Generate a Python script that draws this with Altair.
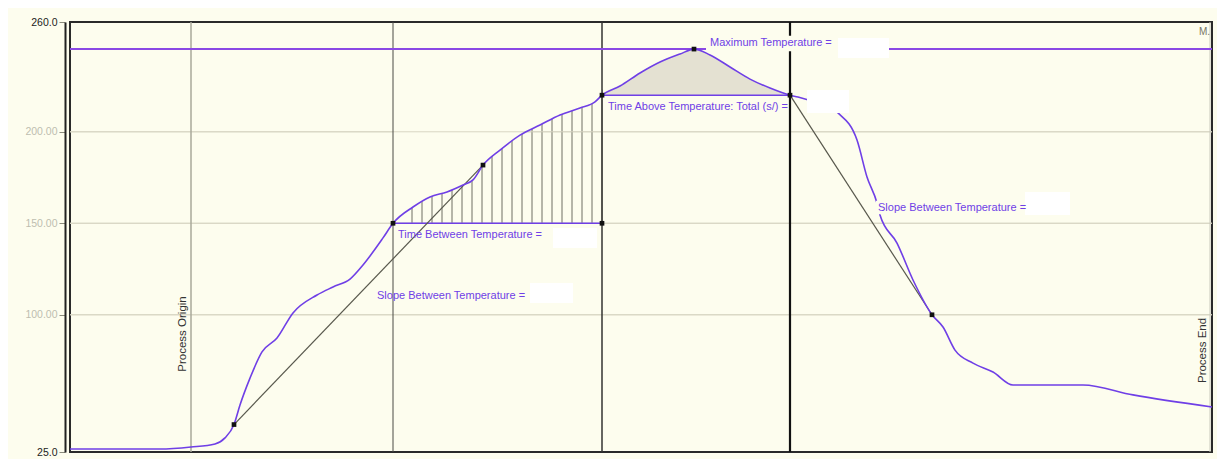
import altair as alt
import pandas as pd

# ---------------- data ----------------
time_s = [0, 45, 60.5, 72.5, 77.5, 82, 85, 90, 96, 103.5, 111.5, 123.5, 131.5, 140, 146.5,
          156.5, 161.5, 171.5, 180, 188.5, 196.5, 201.5, 206.5, 215, 225, 235, 245, 255,
          262.5, 266, 275, 285, 295, 305, 312, 320, 330, 340, 350, 360, 364, 374, 384,
          393.5, 398.5, 403.5, 405, 413.5, 421.5, 431, 436.5, 442.5, 451.5, 461.5, 471.5,
          506.5, 531.5, 571]
temp_c = [26.6, 26.6, 27.7, 29.4, 32.7, 40.0, 50.7, 65.4, 79.7, 87.3, 101.0, 110.8, 115.2,
          119.5, 127.2, 142.0, 150.0, 158.9, 164.4, 167.1, 170.9, 173.7, 181.8, 190.0, 198.2,
          203.7, 209.2, 213.0, 216.3, 220.0, 225.0, 232.1, 238.1, 242.5, 245.2, 242.0, 235.4,
          228.8, 223.9, 220.0, 219.0, 215.5, 210.3, 195.5, 175.3, 161.1, 154.5, 139.2, 119.0,
          100.0, 93.3, 80.7, 73.6, 68.7, 61.6, 61.6, 56.2, 49.6]

axis_ticks = [25, 100, 150, 200, 260]
grid_T = [100, 150, 200]

origin_t = 60.5
marker_lines_t = [161.5]
above_start_t = 266
above_end_t = 360
end_t = 571

max_temp = 245.2
low_thresh = 150
high_thresh = 220

marker_t = [82, 161.5, 206.5, 266, 312, 360, 431, 266]
marker_T = [40, 150, 181.8, 220, 245.2, 220, 100, 150]

slope_seg = ["a", "a", "b", "b"]
slope_t = [82, 206.5, 360, 431]
slope_T = [40, 181.8, 220, 100]

labels = ["Maximum Temperature =", "Time Above Temperature: Total (s/) =",
          "Time Between Temperature =", "Slope Between Temperature =",
          "Slope Between Temperature ="]
label_t = [320, 269, 164, 153.5, 404]
label_T = [248.3, 213.8, 143.4, 110.0, 158.6]

# blank value boxes (white) next to each label
box_t0 = [384, 368.5, 241.5, 230, 477.5]
box_t1 = [409.5, 389.5, 263.5, 251.5, 500]
box_T0 = [240.3, 210.3, 136.5, 106.4, 154.5]
box_T1 = [251.3, 222.8, 147.4, 117.4, 167.1]

# label backgrounds that hide lines beneath
lbg_t0 = [318, 403]
lbg_t1 = [384, 476]
lbg_T0 = [244.0, 155.0]
lbg_T1 = [252.5, 162.3]

side_texts = ["Process Origin", "Process End"]
side_t = [56.5, 566.5]
side_T = [89.5, 80.5]

corner_text = ["M."]
corner_t = [564.5]
corner_T = [254.3]

# ---------------- styling ----------------
bg = "#fdfdee"
purple = "#6f3fe6"
font = "Liberation Sans"

xs = alt.Scale(domain=[0, 571], nice=False, zero=False)
ys = alt.Scale(domain=[25, 260], nice=False, zero=False)

yaxis = alt.Axis(
    values=axis_ticks,
    labelExpr="datum.value == 25 ? '25.0' : datum.value == 260 ? '260.0' : format(datum.value, '.2f')",
    grid=False, domain=True, offset=5, domainColor="#222222", domainWidth=2,
    ticks=True, tickColor="#8a8a7c", tickSize=6, tickWidth=1, labelPadding=2,
    labelFont=font, labelFontSize=10.5, labelFlush=False,
    labelColor={"condition": {"test": "datum.value == 25 || datum.value == 260", "value": "#222222"},
                "value": "#bdbdb0"},
    title=None,
)


def X(f):
    return alt.X(f, type="quantitative", scale=xs, axis=None)


def Y(f):
    return alt.Y(f, type="quantitative", scale=ys, axis=yaxis)


curve_df = pd.DataFrame({"t": time_s, "T": temp_c})

grid = alt.Chart(pd.DataFrame({"T": grid_T})).mark_rule(color="#d8d6c4", strokeWidth=1).encode(
    y=Y("T"))

hatch = alt.Chart(alt.sequence(171, 267, 5, as_="t")).transform_calculate(
    lo=str(low_thresh), hi="223").mark_rule(color="#6e6e62", strokeWidth=1).encode(
    x=X("t"), y=Y("lo"), y2=alt.Y2("hi"))

mask = alt.Chart(curve_df).transform_filter(
    f"datum.t >= {marker_lines_t[0]} && datum.t <= {above_start_t}").transform_calculate(
    top="224").mark_area(color=bg, opacity=1, interpolate="monotone").encode(
    x=X("t"), y=Y("T"), y2=alt.Y2("top"))

grid_top = alt.Chart(pd.DataFrame({"T": grid_T})).mark_rule(color="#d8d6c4", strokeWidth=1).encode(
    y=Y("T"))

dotted = alt.Chart(curve_df).transform_filter(
    f"datum.t >= {above_start_t} && datum.t <= {above_end_t}").transform_calculate(
    base=str(high_thresh)).mark_area(color="#e4e1d2", opacity=1, interpolate="monotone").encode(
    x=X("t"), y=Y("T"), y2=alt.Y2("base"))

v_origin = alt.Chart(pd.DataFrame({"t": [origin_t]})).mark_rule(
    color="#a9a89a", strokeWidth=1.5).encode(x=X("t"))
v_mid = alt.Chart(pd.DataFrame({"t": marker_lines_t})).mark_rule(
    color="#4a4a44", strokeWidth=1).encode(x=X("t"))
v_a = alt.Chart(pd.DataFrame({"t": [above_start_t]})).mark_rule(
    color="#333330", strokeWidth=1.5).encode(x=X("t"))
v_b = alt.Chart(pd.DataFrame({"t": [above_end_t]})).mark_rule(
    color="#111111", strokeWidth=2.2).encode(x=X("t"))
v_end = alt.Chart(pd.DataFrame({"t": [end_t - 1]})).mark_rule(
    color="#c8c8bc", strokeWidth=1).encode(x=X("t"))

max_line = alt.Chart(pd.DataFrame({"T": [max_temp]})).mark_rule(
    color="#8a48e4", strokeWidth=2).encode(y=Y("T"))

base_df = pd.DataFrame({"t0": [marker_lines_t[0], above_start_t],
                        "t1": [above_start_t, above_end_t],
                        "T": [low_thresh, high_thresh]})
baselines = alt.Chart(base_df).mark_rule(color=purple, strokeWidth=1.6).encode(
    x=X("t0"), x2=alt.X2("t1"), y=Y("T"))

slope_df = pd.DataFrame({"seg": slope_seg, "t": slope_t, "T": slope_T})
slopes = alt.Chart(slope_df).mark_line(color="#58584c", strokeWidth=1.2).encode(
    x=X("t"), y=Y("T"), detail="seg:N")

curve = alt.Chart(curve_df).mark_line(color=purple, strokeWidth=1.6, interpolate="monotone").encode(
    x=X("t"), y=Y("T"), order="t:Q")

lbg = alt.Chart(pd.DataFrame({"a": lbg_t0, "b": lbg_t1, "c": lbg_T0, "d": lbg_T1})).mark_rect(
    color=bg).encode(x=X("a"), x2=alt.X2("b"), y=Y("c"), y2=alt.Y2("d"))

boxes = alt.Chart(pd.DataFrame({"a": box_t0, "b": box_t1, "c": box_T0, "d": box_T1})).mark_rect(
    color="#ffffff").encode(x=X("a"), x2=alt.X2("b"), y=Y("c"), y2=alt.Y2("d"))

markers = alt.Chart(pd.DataFrame({"t": marker_t, "T": marker_T})).mark_square(
    size=22, color="#111111", opacity=1).encode(x=X("t"), y=Y("T"))

texts = alt.Chart(pd.DataFrame({"s": labels, "t": label_t, "T": label_T})).mark_text(
    align="left", baseline="middle", color=purple, font=font, fontSize=11).encode(
    x=X("t"), y=Y("T"), text="s:N")

side = alt.Chart(pd.DataFrame({"s": side_texts, "t": side_t, "T": side_T})).mark_text(
    align="center", baseline="middle", angle=270, color="#333333", font=font,
    fontSize=11.5).encode(x=X("t"), y=Y("T"), text="s:N")

corner = alt.Chart(pd.DataFrame({"s": corner_text, "t": corner_t, "T": corner_T})).mark_text(
    align="left", baseline="middle", color="#777766", font=font, fontSize=10).encode(
    x=X("t"), y=Y("T"), text="s:N")

chart = alt.layer(
    grid, hatch, mask, grid_top, dotted, v_origin, v_mid, v_a, v_b, v_end, max_line,
    baselines, slopes, curve, lbg, boxes, markers, texts, side, corner
).properties(
    width=1142, height=430, background=bg,
    padding={"left": 62, "top": 14, "right": 5, "bottom": 7},
    autosize=alt.AutoSizeParams(type="none"),
).configure_view(stroke="#2a2a2a", strokeWidth=2)

chart.save("out.html", embed_options={"renderer": "svg", "actions": False})
